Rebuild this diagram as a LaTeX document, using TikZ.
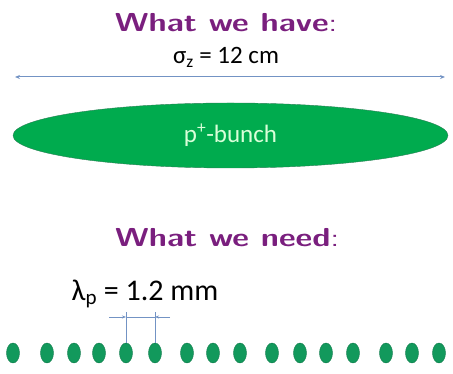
\documentclass[tikz,border=0pt]{standalone}
\usepackage{fontspec}
\setmainfont{Carlito}
\usetikzlibrary{shapes.geometric,arrows.meta,positioning}
\definecolor{titlepurple}{HTML}{7A1F7E}
\definecolor{spanblue}{HTML}{7393C4}
\definecolor{bunchgreen}{HTML}{00AB4E}
\definecolor{bunchedge}{HTML}{2A7F55}
\definecolor{letgreen}{HTML}{12995C}
\newcommand{\widehead}[1]{\scalebox{1.25}[1]{#1}}

\begin{document}
\begin{tikzpicture}[x=1pt, y=1pt,
    heading/.style={font=\fontsize{26}{30}\selectfont\sffamily\bfseries, text=titlepurple, anchor=base},
    label/.style={font=\fontsize{25}{29}\selectfont, anchor=base},
    bunchlet/.style={draw=letgreen!80!black, fill=letgreen, ellipse, minimum width=13pt, minimum height=20pt, inner sep=0pt},
    dimline/.style={draw=spanblue, line width=0.6pt}]
  \useasboundingbox (0,0) rectangle (453,374);

  % what we have
  \node (have) [heading] at (226,342) {\widehead{What we have{\mdseries :}}};
  \node (sigma) [label] at (226,310) {σ\textsubscript{z} = 12 cm};
  \coordinate (al) at (15,297);
  \coordinate (ar) at (445,297);
  \draw [{Stealth[length=5pt,width=4pt]}-{Stealth[length=5pt,width=4pt]}, spanblue, line width=1pt] (al) -- (ar);
  \node (bunch) [draw=bunchedge, fill=bunchgreen, ellipse, minimum width=435pt, minimum height=65pt, inner sep=0pt,
    text=green!15, font=\fontsize{25}{29}\selectfont] at (230.5,238.5) {p\textsuperscript{+}-bunch};

  % what we need
  \node (need) [heading] at (227,127) {\widehead{What we need{\mdseries :}}};
  \node (lambda) [label, font=\fontsize{30}{34}\selectfont] at (145,73) {λ\textsubscript{p} = 1.2 mm};
  \foreach \x [count=\i] in {13,47,74,99,126,155,187,213,240,272,300,326,353,386,412,439}
    \node (d\i) [bunchlet] at (\x,21) {};

  \coordinate [above=31pt of d5.north] (ta);
  \coordinate [above=31pt of d6.north] (tb);
  \coordinate (hl) at (109,57);
  \coordinate (hr) at (170,57);
  \draw [dimline] (d5.north) -- (ta);
  \draw [dimline] (d6.north) -- (tb);
  \draw [dimline, -{Stealth[length=4pt,width=3pt]}] (hl) -- (d5 |- hl);
  \draw [dimline, -{Stealth[length=4pt,width=3pt]}] (hr) -- (d6 |- hr);
  \draw [dimline] (d5 |- hl) -- (d6 |- hr);
\end{tikzpicture}
\end{document}
